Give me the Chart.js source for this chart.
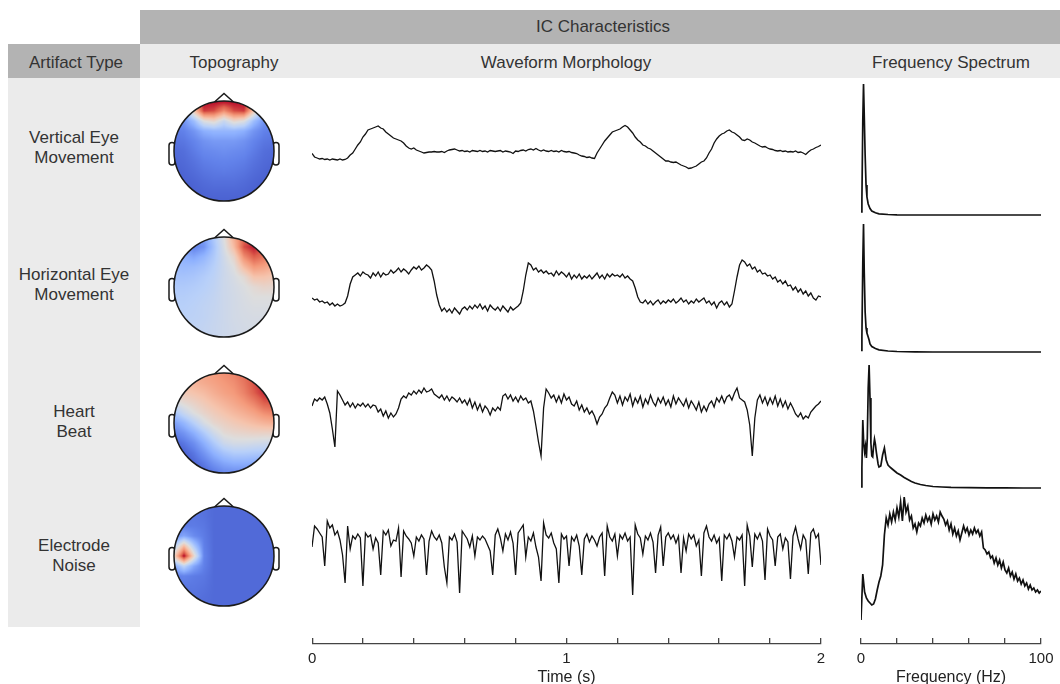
<!DOCTYPE html>
<html>
<head>
<meta charset="utf-8">
<script src="https://cdn.jsdelivr.net/npm/chart.js@4.4.1/dist/chart.umd.min.js"></script>
<style>
  body{margin:0;background:#fff;font-family:"Liberation Sans",Arial,sans-serif;color:#333}
  #fig{position:relative;width:1060px;height:684px;overflow:hidden}
  .band{position:absolute}
  .hd{position:absolute;transform:translate(-50%,-50%);font-size:17px;line-height:20px;white-space:nowrap;color:#333}
  .rowlab{position:absolute;left:8px;width:132px;height:40px;text-align:center;font-size:17px;line-height:20px;color:#333}
  canvas{position:absolute}
</style>
</head>
<body>
<div id="fig">
  <div class="band" style="left:140px;top:10px;width:920px;height:34px;background:#b3b3b3"></div>
  <div class="band" style="left:140px;top:44px;width:920px;height:34px;background:#ebebeb"></div>
  <div class="band" style="left:8px;top:44px;width:132px;height:34px;background:#b3b3b3"></div>
  <div class="band" style="left:8px;top:78px;width:132px;height:549px;background:#ebebeb"></div>

  <div class="hd" style="left:603px;top:27px">IC Characteristics</div>
  <div class="hd" style="left:76px;top:63px">Artifact Type</div>
  <div class="hd" style="left:234px;top:63px">Topography</div>
  <div class="hd" style="left:566px;top:63px">Waveform Morphology</div>
  <div class="hd" style="left:951px;top:63px">Frequency Spectrum</div>

  <div class="rowlab" style="top:128px">Vertical Eye<br>Movement</div>
  <div class="rowlab" style="top:265px">Horizontal Eye<br>Movement</div>
  <div class="rowlab" style="top:402px">Heart<br>Beat</div>
  <div class="rowlab" style="top:536px">Electrode<br>Noise</div>
</div>
<script>
// ---------- Data ----------
const SAMPLE_STEP = 0.01;          // s between waveform samples
const TIME_TICKS = [0, 1, 2];
const FREQ_TICKS = [0, 100];

// waveforms, arbitrary amplitude units
const waveVEOG = [
  -3.5,-7,-8,-9,-8.5,-9.5,-9,-10,-9,-9.5,-10,-9,-10,-9.5,
  -8,-5,-3,1,5,8,
  13,16,20,21,22,23,24,22,21,18,
  16,14,12,11,10,9,7,4,2,1,
  2,0,-1,-2,-3,-2.5,-2,-2,-1.5,-2,
  -2,-1.5,-2.5,-1,0,0.5,1,0,-1,-0.5,
  -1.5,-1,-2,-0.5,-1,-1.5,-0.5,-1.5,-1,-2,
  -0.5,-1,-1.5,-1,-0.5,-2,-1,-1.5,-2,-3.5,
  -1,-1.5,-0.5,0,-1,0.5,1,0,1.5,0,
  -1,0,-1,-1.5,-0.5,-1.5,-1,-2,-0.5,-1.5,
  -2,-1.5,-2.5,-3,-3.5,-5,-6,-6.5,-7.5,-7,
  -8,-8.5,-3,1,5,9,12,15,18,19,
  20,21,23,24.5,23,20,17,13,10,8,
  5,4,2,1,-1,-3,-5,-7,-9,-11,
  -11,-12,-12.5,-12,-13.5,-15,-16,-17,-18.5,-18,
  -17,-16,-14,-12,-11,-8,-3,1,7,11,
  14,16,17,19,20,18,17,15,13,10,
  9.5,11,10,8,7,5.5,4,3,3.5,2,
  1,0.5,-0.5,-1,-0.5,-1.5,-1,-2,-1.5,-2,
  -1,-2.5,-2,-3,-4.5,-2,0,1,2.5,3.5,
  5
];
const waveHEOG = [
  -11,-13,-12,-15,-14,-16,-15,-18,-16,-19,-17,-19,-18,
  -16,-9,3,10,12,14,11,
  15,13,12,9,14,11,15,10,14,12,
  13,17,14,16,19,15,18,16,13,17,
  20,18,21,17,19,22,20,17,6,-8,
  -18,-24,-21,-25,-22,-26,-21,-24,-27,-22,
  -20,-23,-19,-22,-18,-21,-17,-22,-19,-24,
  -18,-21,-23,-20,-24,-19,-22,-25,-20,-23,
  -21,-19,-16,-4,12,24,22,17,19,15,
  17,14,16,13,14,11,16,12,15,13,
  10,14,8,12,9,13,8,11,9,12,
  8,11,14,9,12,8,13,10,13,11,
  12,10,13,9,11,8,6,-1,-10,-15,
  -16,-13,-17,-14,-18,-15,-13,-17,-14,-16,
  -13,-15,-12,-16,-14,-11,-15,-13,-17,-14,
  -16,-12,-15,-13,-11,-16,-14,-18,-15,-21,
  -16,-14,-18,-15,-20,-17,-4,10,22,27,
  25,21,23,18,20,15,17,13,14,11,
  12,8,10,5,7,3,6,1,2,-3,
  0,-5,-2,-7,-4,-9,-6,-11,-13,-9,
  -10
];
const waveHeart = [
  14,21,19,22,20,23,16,7,-9,-27,
  29,25,20,15,18,13,17,12,16,14,
  17,13,16,12,15,14,8,11,4,9,
  2,7,3,6,12,21,24,22,27,25,
  29,26,30,27,32,28,29,31,26,24,
  22,25,20,24,19,23,21,18,22,17,
  20,15,21,12,18,10,16,8,14,11,
  5,12,9,13,10,24,26,21,25,19,
  23,18,24,20,22,17,19,9,-6,-22,
  -36,12,31,27,22,25,18,24,17,26,
  20,23,16,14,19,10,15,8,12,6,
  9,4,-4,3,6,12,15,22,28,25,
  17,24,15,23,19,26,14,22,17,24,
  13,21,16,25,18,14,22,17,23,15,
  20,13,24,16,22,18,14,21,12,19,
  15,10,18,8,14,9,16,19,13,22,
  18,24,17,23,25,20,27,32,22,20,
  18,10,-5,-36,2,20,25,17,23,15,
  22,16,24,14,21,13,19,11,17,12,
  6,3,7,1,4,2,8,11,14,16,
  19
];
const waveNoise = [
  8,29,26,22,18,-11,34,27,30,20,
  24,15,0,-28,29,6,19,16,21,17,
  -31,22,18,20,6,17,12,-20,24,20,
  25,9,15,14,27,-22,24,19,16,12,
  -1,18,14,20,16,-20,14,24,18,15,
  20,12,-12,-28,18,15,21,13,-38,24,
  20,16,8,19,-1,18,15,19,16,10,
  4,-20,20,26,17,4,21,15,23,12,
  -20,22,26,30,-2,18,14,22,8,-2,
  -26,32,20,17,22,12,6,-28,21,16,
  19,-11,18,14,20,9,-20,16,21,13,
  19,15,9,18,22,-21,29,18,14,21,
  -1,20,16,22,14,18,-40,30,21,17,
  1,19,15,22,13,-18,20,28,-11,18,
  22,16,20,12,19,-18,17,4,21,16,
  20,9,15,-21,22,29,18,14,20,12,
  17,-26,20,16,21,14,-2,18,15,20,
  -31,30,19,-12,21,16,22,14,-25,26,
  19,15,-11,18,21,6,17,13,-24,19,
  28,16,6,20,15,-19,22,26,17,21,
  -10
];

// spectra: frequency (Hz) and power (arbitrary units)
const specVEOG_f = [0,0.5,1,1.4,1.8,2.3,2.8,3.3,4,5,6,8,10,15,20,40,100];
const specVEOG_p = [3,15,95,131,100,60,30,18,11,6.5,4,2.2,1.2,0.5,0.2,0,0];

const specHEOG_f = [0,0.5,1,1.4,1.8,2.3,2.8,3.3,4,4.5,5,6,8,10,15,20,30,40,100];
const specHEOG_p = [1.5,15,90,128,80,40,24,19,15,12,8,5.5,3.5,2.2,1,0.5,0.2,0,0];

const specHeart_f = [0,0.5,1,1.5,2,2.5,3,3.5,4,4.5,5,5.5,6,6.5,7,7.5,8,8.5,9,9.5,10,
  11,12,13,14,15,16,17,18,19,20,22,24,26,28,30,33,36,40,45,50,60,70,80,90,100];
const specHeart_p = [1,20,68,45,36,42,30,50,100,123,90,45,32,31,42,49,44,36,30,24,21,
  22,33,40,28,23,21,19.5,18,16.5,15,13,10.5,8.5,6.5,5,3.5,2.5,1.5,1,0.6,0.3,0.2,0.1,0,0];

const specNoise_f = [0,1,2,3,4,5,6,7,8,9,10,11,12,13,14,15,16,17,18,19,20,
  21,22,23,24,25,26,27,28,29,30,31,32,33,34,35,36,37,38,39,40,
  41,42,43,44,45,46,47,48,49,50,51,52,53,54,55,56,57,58,59,60,
  61,62,63,64,65,66,67,68,69,70,71,72,73,74,75,76,77,78,79,80,
  81,82,83,84,85,86,87,88,89,90,91,92,93,94,95,96,97,98,99,100];
const specNoise_p = [0,46,28,22,19,17,15,16,21,30,38,44,55,85,102,95,106,98,108,100,112,
  103,118,99,123,108,114,100,104,92,96,88,97,94,102,97,105,99,103,96,106,
  100,104,98,108,104,101,95,99,90,96,86,92,84,89,80,87,94,88,92,85,
  90,86,92,87,90,84,88,72,70,66,68,62,64,57,62,55,60,52,58,50,
  47,52,44,48,41,46,39,42,36,40,34,37,31,35,30,32,28,30,27,29];

// scalp maps: 11x11 grids, rows front (top) to back, cols left to right, -1..1
const topoVEOG = [
  [-0.5,-0.3,0.6,1,1,1,1,1,0.6,-0.3,-0.5],
  [-0.6,-0.5,0.2,0.85,0.8,0.55,0.8,0.85,0.2,-0.5,-0.6],
  [-0.7,-0.65,-0.4,0.0,0.1,-0.15,0.1,0.0,-0.4,-0.65,-0.7],
  [-0.78,-0.75,-0.65,-0.5,-0.45,-0.45,-0.45,-0.5,-0.65,-0.75,-0.78],
  [-0.82,-0.8,-0.74,-0.66,-0.62,-0.62,-0.62,-0.66,-0.74,-0.8,-0.82],
  [-0.86,-0.84,-0.78,-0.72,-0.7,-0.68,-0.7,-0.72,-0.78,-0.84,-0.86],
  [-0.88,-0.86,-0.82,-0.77,-0.75,-0.74,-0.75,-0.77,-0.82,-0.86,-0.88],
  [-0.9,-0.88,-0.85,-0.81,-0.79,-0.78,-0.79,-0.81,-0.85,-0.88,-0.9],
  [-0.92,-0.9,-0.88,-0.85,-0.83,-0.83,-0.83,-0.85,-0.88,-0.9,-0.92],
  [-0.92,-0.92,-0.9,-0.88,-0.87,-0.87,-0.87,-0.88,-0.9,-0.92,-0.92],
  [-0.92,-0.92,-0.92,-0.9,-0.9,-0.9,-0.9,-0.9,-0.92,-0.92,-0.92]
];
const topoHEOG = [
  [-0.5,-0.6,-0.7,-0.6,-0.3,0.0,0.4,0.7,0.8,0.7,0.5],
  [-0.5,-0.6,-0.75,-0.65,-0.35,-0.05,0.3,0.8,0.95,0.8,0.6],
  [-0.45,-0.5,-0.55,-0.45,-0.3,-0.1,0.1,0.55,0.75,0.65,0.5],
  [-0.4,-0.42,-0.4,-0.35,-0.25,-0.12,0.0,0.3,0.5,0.45,0.35],
  [-0.35,-0.35,-0.33,-0.28,-0.22,-0.12,-0.05,0.05,0.25,0.25,0.2],
  [-0.3,-0.3,-0.28,-0.25,-0.2,-0.12,-0.07,-0.02,0.05,0.1,0.08],
  [-0.27,-0.27,-0.25,-0.22,-0.18,-0.12,-0.08,-0.04,0.0,0.0,0.0],
  [-0.25,-0.25,-0.23,-0.2,-0.17,-0.12,-0.08,-0.05,-0.03,-0.03,-0.03],
  [-0.23,-0.23,-0.22,-0.2,-0.16,-0.12,-0.08,-0.06,-0.05,-0.05,-0.05],
  [-0.22,-0.22,-0.2,-0.18,-0.15,-0.12,-0.09,-0.07,-0.06,-0.06,-0.06],
  [-0.22,-0.22,-0.2,-0.18,-0.15,-0.12,-0.09,-0.07,-0.06,-0.06,-0.06]
];
const topoHeart = [
  [0.3,0.35,0.4,0.45,0.5,0.55,0.6,0.7,0.8,0.9,0.9],
  [0.25,0.3,0.35,0.4,0.45,0.5,0.55,0.65,0.8,0.95,0.95],
  [0.15,0.2,0.25,0.3,0.38,0.45,0.5,0.6,0.75,0.9,0.95],
  [-0.05,0.05,0.12,0.2,0.28,0.35,0.42,0.5,0.6,0.75,0.8],
  [-0.35,-0.15,0.0,0.1,0.18,0.25,0.32,0.38,0.45,0.55,0.6],
  [-0.6,-0.45,-0.25,-0.05,0.08,0.14,0.2,0.25,0.3,0.35,0.38],
  [-0.75,-0.65,-0.5,-0.3,-0.1,0.04,0.08,0.1,0.12,0.12,0.12],
  [-0.88,-0.8,-0.68,-0.5,-0.3,-0.12,-0.06,-0.06,-0.08,-0.1,-0.12],
  [-0.95,-0.9,-0.8,-0.65,-0.48,-0.35,-0.28,-0.28,-0.3,-0.32,-0.35],
  [-1,-0.95,-0.88,-0.78,-0.65,-0.55,-0.5,-0.5,-0.52,-0.55,-0.58],
  [-1,-1,-0.95,-0.88,-0.8,-0.72,-0.7,-0.7,-0.72,-0.75,-0.78]
];
const topoNoise = [
  [-0.8,-0.8,-0.8,-0.82,-0.86,-0.86,-0.86,-0.86,-0.86,-0.86,-0.86],
  [-0.8,-0.8,-0.8,-0.82,-0.86,-0.86,-0.86,-0.86,-0.86,-0.86,-0.86],
  [-0.78,-0.78,-0.78,-0.8,-0.86,-0.86,-0.86,-0.86,-0.86,-0.86,-0.86],
  [-0.7,-0.55,-0.7,-0.78,-0.86,-0.86,-0.86,-0.86,-0.86,-0.86,-0.86],
  [-0.3,0.3,-0.3,-0.76,-0.86,-0.86,-0.86,-0.86,-0.86,-0.86,-0.86],
  [0.1,1.0,0.1,-0.74,-0.86,-0.86,-0.86,-0.86,-0.86,-0.86,-0.86],
  [-0.55,-0.2,-0.55,-0.76,-0.86,-0.86,-0.86,-0.86,-0.86,-0.86,-0.86],
  [-0.78,-0.74,-0.78,-0.8,-0.86,-0.86,-0.86,-0.86,-0.86,-0.86,-0.86],
  [-0.8,-0.8,-0.8,-0.82,-0.86,-0.86,-0.86,-0.86,-0.86,-0.86,-0.86],
  [-0.82,-0.82,-0.82,-0.84,-0.86,-0.86,-0.86,-0.86,-0.86,-0.86,-0.86],
  [-0.84,-0.84,-0.84,-0.85,-0.86,-0.86,-0.86,-0.86,-0.86,-0.86,-0.86]
];

// ---------- Layout ----------
const ROW_BANDS = [[78, 220], [220, 358], [358, 494], [494, 630]];
const WAVE_ZERO = [150, 287, 420, 555];      // pixel of amplitude 0 per row
const SPEC_ZERO = [215, 352, 488, 620];      // pixel of power 0 per row
const HEAD_CENTER_Y = [151, 287, 423, 556];
const INK = '#111';
const AXIS_INK = '#444';

Chart.defaults.font.family = '"Liberation Sans", Arial, sans-serif';
Chart.defaults.color = '#222';

const fig = document.getElementById('fig');
function makeCanvas(left, top, w, h){
  const c = document.createElement('canvas');
  c.width = w; c.height = h;
  c.style.left = left + 'px'; c.style.top = top + 'px';
  c.style.width = w + 'px'; c.style.height = h + 'px';
  fig.appendChild(c);
  return c;
}

const baseOpts = {
  responsive: false,
  animation: false,
  devicePixelRatio: 1,
  events: [],
  plugins: {legend: {display: false}, tooltip: {enabled: false}}
};

function toXY(xs, ys){ return ys.map((y, i)=>({x: xs[i], y})); }

function wavePanel(row, values){
  const [top, bottom] = ROW_BANDS[row];
  const zero = WAVE_ZERO[row];
  const times = values.map((_, i)=> i * SAMPLE_STEP);
  new Chart(makeCanvas(302, top, 529, bottom - top), {
    type: 'line',
    data: {datasets: [{data: toXY(times, values), borderColor: INK, borderWidth: 1.3,
      pointRadius: 0, tension: 0, fill: false}]},
    options: Object.assign({}, baseOpts, {
      layout: {padding: {left: 10, right: 10, top: 0, bottom: 0}},
      scales: {
        x: {type: 'linear', display: false, min: 0, max: 2},
        y: {display: false, min: zero - bottom, max: zero - top}
      }
    })
  });
}

function specPanel(row, freqs, power){
  const [top, bottom] = ROW_BANDS[row];
  const zero = SPEC_ZERO[row];
  new Chart(makeCanvas(851, top, 200, bottom - top), {
    type: 'line',
    data: {datasets: [{data: toXY(freqs, power), borderColor: INK, borderWidth: 1.7,
      pointRadius: 0, tension: 0, fill: false}]},
    options: Object.assign({}, baseOpts, {
      layout: {padding: {left: 10, right: 10, top: 0, bottom: 0}},
      scales: {
        x: {type: 'linear', display: false, min: 0, max: 100},
        y: {display: false, min: zero - bottom, max: zero - top}
      }
    })
  });
}

// ---------- Scalp map ----------
const COOLWARM = [[59,76,192],[98,130,234],[141,176,254],[184,208,249],[221,221,221],
  [245,196,173],[244,154,123],[222,96,77],[180,4,38]];
function cmap(v){
  const t = Math.max(0, Math.min(1, (v + 1) / 2)) * 8;
  const i = Math.min(7, Math.floor(t)), f = t - i;
  const a = COOLWARM[i], b = COOLWARM[i + 1];
  return [a[0] + (b[0]-a[0])*f, a[1] + (b[1]-a[1])*f, a[2] + (b[2]-a[2])*f];
}
function sampleGrid(g, u, w){
  const n = g.length;
  const c = Math.max(0, Math.min(n - 1, (u + 1) / 2 * (n - 1)));
  const r = Math.max(0, Math.min(n - 1, (1 - w) / 2 * (n - 1)));
  const c0 = Math.min(n - 2, Math.floor(c)), r0 = Math.min(n - 2, Math.floor(r));
  const fc = c - c0, fr = r - r0;
  return g[r0][c0]*(1-fc)*(1-fr) + g[r0][c0+1]*fc*(1-fr) + g[r0+1][c0]*(1-fc)*fr + g[r0+1][c0+1]*fc*fr;
}

const scalpPlugin = {
  id: 'scalp',
  afterDraw(chart, args, opts){
    const {ctx} = chart;
    const xs = chart.scales.x, ys = chart.scales.y;
    const px = (v)=> xs.getPixelForValue(v), py = (v)=> ys.getPixelForValue(v);
    const cx = px(0), cy = py(0), r = px(1) - cx;
    ctx.save();
    ctx.strokeStyle = '#1a1a1a';
    ctx.lineWidth = 1.5;
    // ears
    [[-1.1, -0.98], [0.98, 1.1]].forEach(([a, b])=>{
      const x0 = px(a), x1 = px(b), y0 = py(0.17), y1 = py(-0.28);
      ctx.beginPath();
      ctx.roundRect(x0, y0, x1 - x0, y1 - y0, 3);
      ctx.fillStyle = '#fff';
      ctx.fill();
      ctx.stroke();
    });
    // nose
    ctx.beginPath();
    ctx.moveTo(px(-0.19), py(0.98));
    ctx.lineTo(px(0), py(1.15));
    ctx.lineTo(px(0.19), py(0.98));
    ctx.stroke();
    // map
    const x0 = Math.floor(cx - r), y0 = Math.floor(cy - r), size = Math.ceil(2 * r) + 2;
    const off = document.createElement('canvas');
    off.width = off.height = size;
    const octx = off.getContext('2d');
    const img = octx.createImageData(size, size);
    for (let j = 0; j < size; j++){
      for (let i = 0; i < size; i++){
        const u = xs.getValueForPixel(x0 + i + 0.5), w = ys.getValueForPixel(y0 + j + 0.5);
        const col = cmap(sampleGrid(opts.grid, u, w));
        const k = (j * size + i) * 4;
        img.data[k] = col[0]; img.data[k+1] = col[1]; img.data[k+2] = col[2]; img.data[k+3] = 255;
      }
    }
    octx.putImageData(img, 0, 0);
    ctx.beginPath();
    ctx.arc(cx, cy, r, 0, Math.PI * 2);
    ctx.save();
    ctx.clip();
    ctx.drawImage(off, x0, y0);
    ctx.restore();
    ctx.beginPath();
    ctx.arc(cx, cy, r, 0, Math.PI * 2);
    ctx.stroke();
    ctx.restore();
  }
};

function headPanel(row, grid){
  const cy = HEAD_CENTER_Y[row];
  new Chart(makeCanvas(164, cy - 65, 120, 130), {
    type: 'scatter',
    data: {datasets: []},
    options: Object.assign({}, baseOpts, {
      layout: {padding: 0},
      plugins: {legend: {display: false}, tooltip: {enabled: false}, scalp: {grid}},
      scales: {
        x: {type: 'linear', display: false, min: -1.2, max: 1.2},
        y: {type: 'linear', display: false, min: -1.3, max: 1.3}
      }
    }),
    plugins: [scalpPlugin]
  });
}

// ---------- Bottom axes ----------
function axisPanel(left, width, padL, padR, min, max, step, labels, title){
  new Chart(makeCanvas(left, 620, width, 67), {
    type: 'line',
    data: {datasets: []},
    options: Object.assign({}, baseOpts, {
      layout: {padding: {left: padL, right: padR, top: 18, bottom: 0}},
      scales: {
        x: {
          type: 'linear', position: 'bottom', min, max,
          afterFit: (s)=>{ s.height = 43; },
          grid: {drawOnChartArea: true, drawTicks: false, color: AXIS_INK, lineWidth: 1.3},
          border: {display: true, color: AXIS_INK, width: 1.3},
          ticks: {
            stepSize: step, padding: 6, autoSkip: false, maxRotation: 0,
            color: '#222', font: {size: 15},
            callback: (v)=>{
              const r = Math.round(v * 1000) / 1000;
              return labels.includes(r) ? String(r) : '';
            }
          },
          title: {display: true, text: title, color: '#222', font: {size: 16}, padding: {top: 0, bottom: 0}}
        },
        y: {display: false, min: 0, max: 1}
      }
    })
  });
}

wavePanel(0, waveVEOG);
wavePanel(1, waveHEOG);
wavePanel(2, waveHeart);
wavePanel(3, waveNoise);

specPanel(0, specVEOG_f, specVEOG_p);
specPanel(1, specHEOG_f, specHEOG_p);
specPanel(2, specHeart_f, specHeart_p);
specPanel(3, specNoise_f, specNoise_p);

headPanel(0, topoVEOG);
headPanel(1, topoHEOG);
headPanel(2, topoHeart);
headPanel(3, topoNoise);

axisPanel(302, 529, 10, 10, 0, 2, 0.2, TIME_TICKS, 'Time (s)');
axisPanel(841, 219, 20, 19, 0, 100, 20, FREQ_TICKS, 'Frequency (Hz)');
</script>
</body>
</html>
